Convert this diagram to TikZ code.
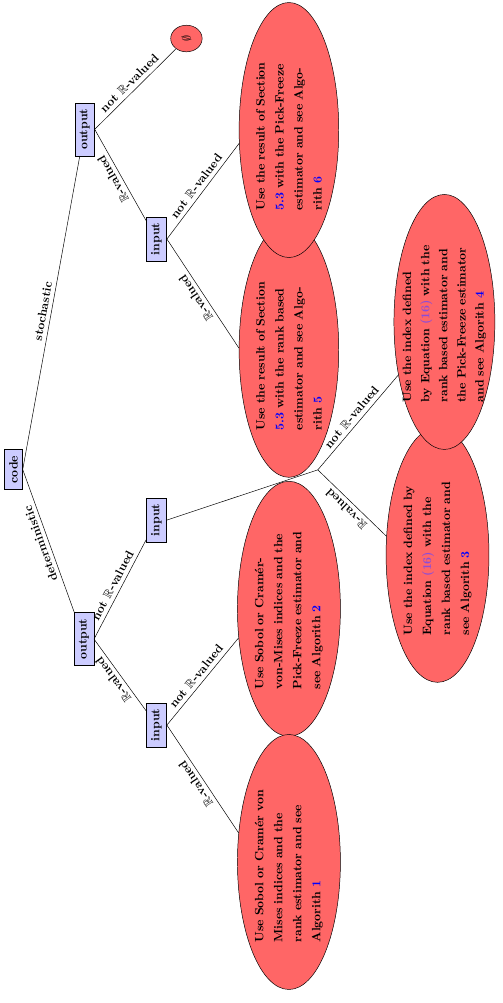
\documentclass[tikz,border=0pt]{standalone}
\usepackage{amsmath}
\usepackage{amsfonts}
\usepackage{amssymb}
\usepackage{tikz}
\usetikzlibrary{shapes.geometric}
\definecolor{eqcolor}{rgb}{0.55,0.3,0.85}

\begin{document}
\begin{tikzpicture}[
  box/.style={draw, rectangle, fill=blue!20, rotate=90, inner xsep=5pt, inner ysep=4pt},
  leaf/.style={draw, ellipse, fill=red!60, rotate=90, text width=4.68cm, align=left,
    inner xsep=8pt, inner ysep=2pt, font=\bfseries\linespread{1.31}\selectfont},
  lab/.style={midway, above, sloped, allow upside down},
  font=\bfseries]
\useasboundingbox (0,0) rectangle (14.62,-29.16);
\node[box] (code) at (0.39,-13.65) {code};
\node[box] (outd) at (2.44,-18.58) {output};
\node[box] (outs) at (2.46,-3.76) {output};
\node[box] (inr) at (4.55,-21.08) {input};
\node[box] (inn) at (4.55,-15.12) {input};
\node[box] (ins) at (4.55,-6.95) {input};
\node[draw, ellipse, fill=red!60, rotate=90, inner sep=1pt, minimum width=22pt, minimum height=26pt] (none) at (5.42,-1.12) {$\emptyset$};
\coordinate (fork) at (9.24,-13.66);
\node[leaf] (algtwo) at (8.4,-17.70) {Use Sobol or Cram\'er-von-Mises indices and the Pick-Freeze estimator and see Algorith \textcolor{blue}{2}};
\node[leaf] (algone) at (8.4,-25.06) {Use Sobol or Cram\'er von Mises indices and the rank estimator and see Algorith \textcolor{blue}{1}};
\node[leaf] (algthree) at (12.72,-16.13) {Use the index defined by Equation \textcolor{eqcolor}{(16)} with the rank based estimator and see Algorith \textcolor{blue}{3}};
\node[leaf, inner ysep=-5pt, font=\bfseries\linespread{1.25}\selectfont] (algfour) at (12.92,-9.36) {Use the index defined\\ by Equation \textcolor{eqcolor}{(16)} with the rank based estimator and the Pick-Freeze estimator and see Algorith \textcolor{blue}{4}};
\node[leaf] (algfive) at (8.4,-10.17) {Use the result of Section \textcolor{blue}{5.3} with the rank based estimator and see Algorith \textcolor{blue}{5}};
\node[leaf] (algsix) at (8.4,-3.78) {Use the result of Section \textcolor{blue}{5.3} with the Pick-Freeze estimator and see Algorith \textcolor{blue}{6}};
\draw (outd) -- (code.south) node[lab] {deterministic};
\draw (code.south) -- (outs) node[lab] {stochastic};
\draw (inr) -- (outd.south) node[lab] {$\mathbb{R}$-valued};
\draw (outd.south) -- (inn) node[lab] {not $\mathbb{R}$-valued};
\draw (ins) -- (outs.south) node[lab] {$\mathbb{R}$-valued};
\draw (outs.south) -- (none) node[lab] {not $\mathbb{R}$-valued};
\draw (algone.60) -- (inr.south) node[lab] {$\mathbb{R}$-valued};
\draw (inr.south) -- (algtwo.120) node[lab] {not $\mathbb{R}$-valued};
\draw (inn.south) -- (fork);
\draw (algthree.70) -- (fork) node[lab] {$\mathbb{R}$-valued};
\draw (fork) -- (algfour.139) node[lab] {not $\mathbb{R}$-valued};
\draw (algfive.88) -- (ins.south) node[lab] {$\mathbb{R}$-valued};
\draw (ins.south) -- (algsix.105) node[lab] {not $\mathbb{R}$-valued};
\end{tikzpicture}
\end{document}
